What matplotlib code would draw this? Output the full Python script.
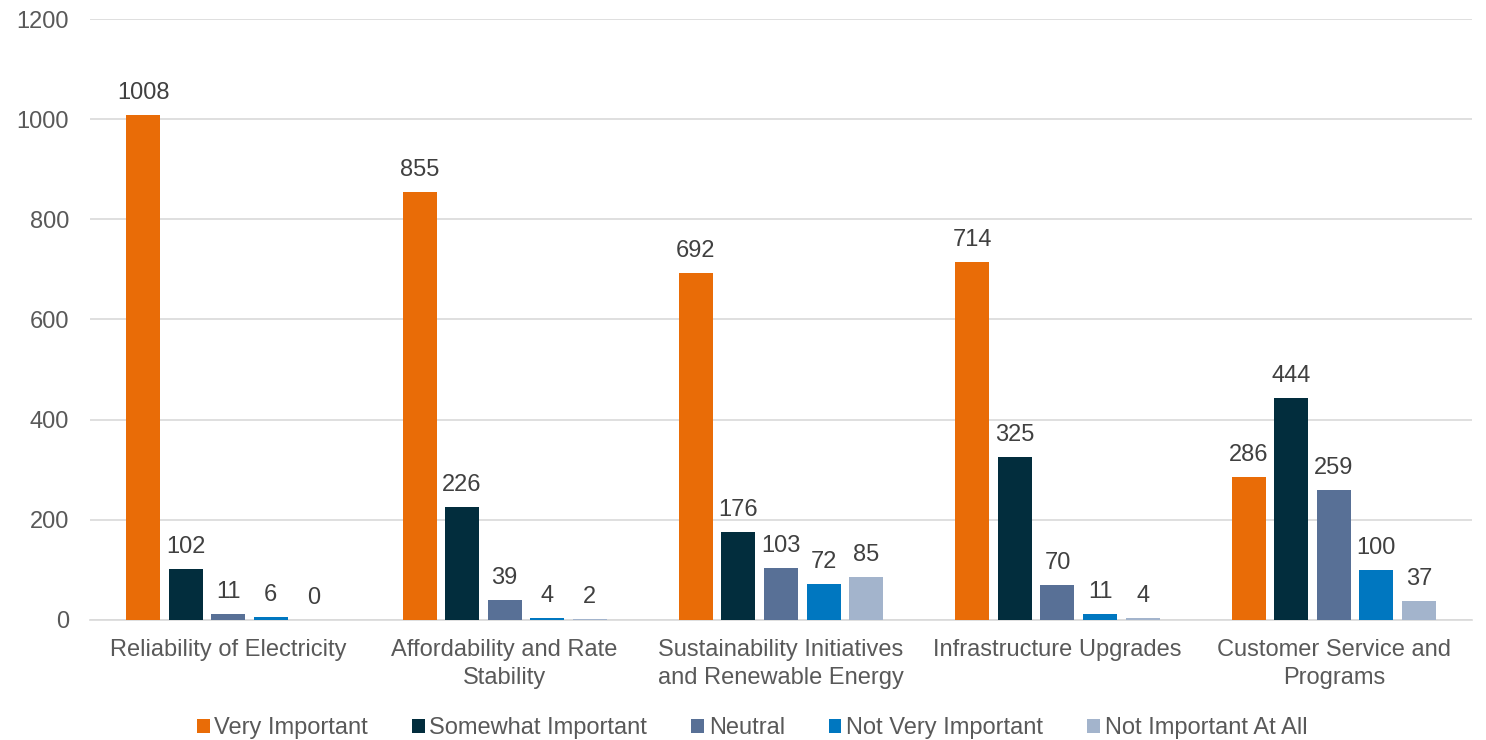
import matplotlib
matplotlib.use("Agg")
import matplotlib.pyplot as plt
import numpy as np

categories = [
    "Reliability of Electricity",
    "Affordability and Rate\nStability",
    "Sustainability Initiatives\nand Renewable Energy",
    "Infrastructure Upgrades",
    "Customer Service and\nPrograms",
]
series_names = ["Very Important", "Somewhat Important", "Neutral",
                "Not Very Important", "Not Important At All"]
very_important = [1008, 855, 692, 714, 286]
somewhat_important = [102, 226, 176, 325, 444]
neutral = [11, 39, 103, 70, 259]
not_very_important = [6, 4, 72, 11, 100]
not_important_at_all = [0, 2, 85, 4, 37]

colors = ["#E96C07", "#022D3D", "#587096", "#0077C0", "#A3B4CC"]

plt.rcParams["font.family"] = ["Liberation Sans", "DejaVu Sans"]
FS = 17

fig = plt.figure(figsize=(14.86, 7.40), dpi=100)
ax = fig.add_axes([0.0606, 0.1622, 0.93, 0.8121])

series = [very_important, somewhat_important, neutral,
          not_very_important, not_important_at_all]
x = np.arange(len(categories))
pitch = 0.154
width = 0.123
for i, (name, vals, c) in enumerate(zip(series_names, series, colors)):
    pos = x + (i - 2) * pitch
    bars = ax.bar(pos, vals, width=width, color=c, label=name, zorder=3)
    for b, v in zip(bars, vals):
        ax.text(b.get_x() + b.get_width() / 2, v + 22, str(v),
                ha="center", va="bottom", fontsize=FS, color="#404040")

ax.set_xlim(-0.5, len(categories) - 0.5)
ax.set_ylim(0, 1200)
ax.set_yticks(range(0, 1201, 200))
ax.set_xticks(x)
ax.set_xticklabels(categories, fontsize=FS, color="#595959", linespacing=1.32)
ax.tick_params(axis="y", labelsize=FS, labelcolor="#595959", length=0, pad=15)
ax.tick_params(axis="x", length=0, pad=14)
ax.grid(axis="y", color="#D9D9D9", lw=1.2, zorder=0)
for s in ["top", "right", "left"]:
    ax.spines[s].set_visible(False)
ax.spines["bottom"].set_color("#D9D9D9")
ax.spines["bottom"].set_linewidth(1.2)

leg = fig.legend(loc="lower center", bbox_to_anchor=(0.506, -0.028), ncol=5,
                 frameon=False, fontsize=FS, handlelength=0.55, handleheight=0.55,
                 handletextpad=0.2, columnspacing=1.85)
for t in leg.get_texts():
    t.set_color("#595959")

fig.savefig("out.png", dpi=100)
